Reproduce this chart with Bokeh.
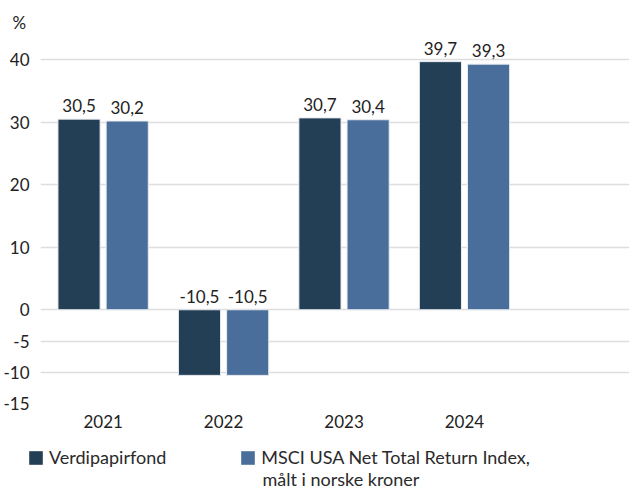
from bokeh.plotting import figure
from bokeh.layouts import column
from bokeh.models import (Range1d, FixedTicker, ColumnDataSource, LabelSet, Label, Title,
                          Legend, LegendItem)
from bokeh.core.properties import value
from bokeh.embed import file_html
from bokeh.resources import INLINE

years = ["2021", "2022", "2023", "2024"]
fund = [30.5, -10.5, 30.7, 39.7]
index = [30.2, -10.5, 30.4, 39.3]
fund_labels = ["30,5", "-10,5", "30,7", "39,7"]
index_labels = ["30,2", "-10,5", "30,4", "39,3"]
y_ticks = [-15, -10, -5, 0, 10, 20, 30, 40]
series_names = ["Verdipapirfond", "MSCI USA Net Total Return Index,"]
series_name_2_line2 = "målt i norske kroner"
unit = "%"

DARK = "#233f56"
LIGHT = "#4a6e9b"
FONT = "Lato"
FS = "17px"
LFS = "18px"
TXT = "#222222"

xc = [i + 0.5 for i in range(len(years))]
off = 0.2
bw = 0.35

src_f = ColumnDataSource(dict(x=[v - off for v in xc], top=fund,
                              ly=[max(v, 0) for v in fund], lab=fund_labels))
src_i = ColumnDataSource(dict(x=[v + off for v in xc], top=index,
                              ly=[max(v, 0) for v in index], lab=index_labels))

p = figure(width=629, height=430, output_backend="svg", toolbar_location=None,
           x_range=Range1d(-0.02, 4.87), y_range=Range1d(-15, 44.2),
           min_border_left=32, min_border_right=0, min_border_top=33,
           min_border_bottom=26)
p.outline_line_color = None
p.background_fill_color = "white"
p.border_fill_color = "white"
p.frame_align = False

t = Title(text=unit, align="left", offset=-28, standoff=1, text_font=FONT,
          text_font_size=FS, text_font_style="normal", text_color=TXT)
p.add_layout(t, "above")

p.vbar(x="x", top="top", bottom=0, width=bw, source=src_f,
       fill_color=DARK, line_color="#e8ecf0", line_width=1)
p.vbar(x="x", top="top", bottom=0, width=bw, source=src_i,
       fill_color=LIGHT, line_color="#e8ecf0", line_width=1)

for s in (src_f, src_i):
    p.add_layout(LabelSet(x="x", y="ly", text="lab", source=s, text_align="center",
                          text_baseline="alphabetic", y_offset=7, text_font=value(FONT),
                          text_font_size=value(FS), text_color=TXT))

# axes
p.yaxis.ticker = FixedTicker(ticks=y_ticks)
p.yaxis.major_label_overrides = {t: str(t) for t in y_ticks}
p.yaxis.axis_line_color = None
p.yaxis.major_tick_line_color = None
p.yaxis.minor_tick_line_color = None
p.yaxis.major_label_standoff = 5
p.yaxis.major_label_text_font = FONT
p.yaxis.major_label_text_font_size = FS
p.yaxis.major_label_text_color = TXT

p.xaxis.ticker = FixedTicker(ticks=xc)
p.xaxis.major_label_overrides = {x: y for x, y in zip(xc, years)}
p.xaxis.axis_line_color = None
p.xaxis.major_tick_line_color = None
p.xaxis.minor_tick_line_color = None
p.xaxis.major_label_standoff = 5
p.xaxis.major_label_text_font = FONT
p.xaxis.major_label_text_font_size = FS
p.xaxis.major_label_text_color = TXT

p.xgrid.grid_line_color = None
p.ygrid.ticker = FixedTicker(ticks=y_ticks)
p.ygrid.grid_line_color = "#dddddd"
p.ygrid.grid_line_width = 1.5

# legend strip (frame covers the whole strip; 1 data unit = 1 px)
LW, LH = 629, 58
lg = figure(width=LW, height=LH, output_backend="svg", toolbar_location=None,
            x_range=Range1d(0, LW), y_range=Range1d(0, LH),
            x_axis_type=None, y_axis_type=None,
            min_border_left=0, min_border_right=0, min_border_top=0,
            min_border_bottom=0)
lg.outline_line_color = None
lg.frame_align = False
lg.xgrid.visible = False
lg.ygrid.visible = False
hidden = ColumnDataSource(dict(x=[-100], top=[0]))
d1 = lg.vbar(x="x", top="top", width=1, source=hidden, fill_color=DARK, line_color=None)
d2 = lg.vbar(x="x", top="top", width=1, source=hidden, fill_color=LIGHT, line_color=None)
legend = Legend(items=[LegendItem(label=series_names[0], renderers=[d1]),
                       LegendItem(label=series_names[1], renderers=[d2])],
                orientation="horizontal", location=(27, 20),
                label_text_font=FONT, label_text_font_size=LFS,
                label_text_color="#2a2a2a", glyph_width=17, glyph_height=17,
                label_height=22, label_standoff=5, spacing=73, padding=0, margin=0,
                border_line_color=None, background_fill_alpha=0)
lg.add_layout(legend, "center")
lg.add_layout(Label(x=262, y=10, text=series_name_2_line2, text_font=FONT,
                    text_font_size=LFS, text_color="#2a2a2a",
                    text_baseline="alphabetic"))

layout = column(p, lg, spacing=0)
open("out.html", "w").write(file_html(layout, INLINE))
